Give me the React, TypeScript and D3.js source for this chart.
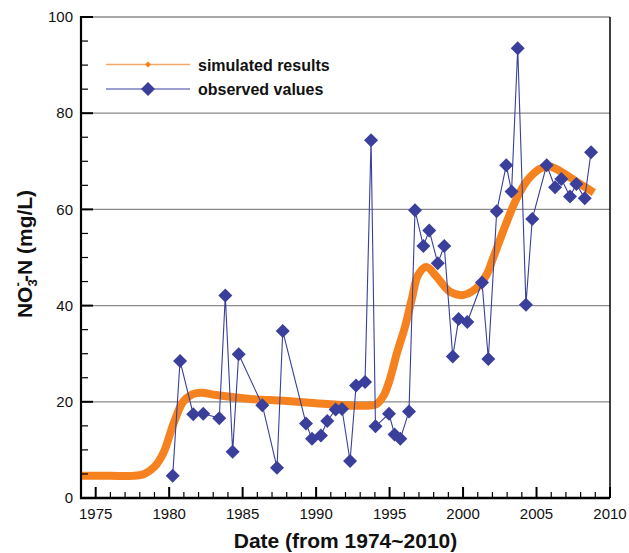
import React from "react";
import * as d3 from "d3";

const obsYears = [
  1980.24, 1980.74, 1981.64, 1982.32, 1983.41, 1983.82, 1984.32, 1984.73, 1986.34, 1987.34,
  1987.73, 1989.31, 1989.72, 1990.33, 1990.76, 1991.33, 1991.76, 1992.31, 1992.72, 1993.33,
  1993.74, 1994.04, 1994.96, 1995.34, 1995.73, 1996.32, 1996.73, 1997.3, 1997.7, 1998.28,
  1998.72, 1999.3, 1999.7, 2000.29, 2001.29, 2001.72, 2002.29, 2002.94, 2003.3, 2003.72,
  2004.28, 2004.71, 2005.69, 2006.26, 2006.69, 2007.28, 2007.71, 2008.28, 2008.71,
];
const obsValues = [
  4.6, 28.5, 17.4, 17.5, 16.6, 42.1, 9.6, 29.9, 19.3, 6.3,
  34.7, 15.5, 12.3, 13.0, 16.0, 18.4, 18.5, 7.7, 23.4, 24.1,
  74.4, 14.9, 17.5, 13.2, 12.3, 18.0, 59.8, 52.4, 55.6, 48.8,
  52.4, 29.4, 37.2, 36.6, 44.8, 28.9, 59.6, 69.2, 63.7, 93.5,
  40.2, 58.0, 69.2, 64.6, 66.3, 62.7, 65.3, 62.3, 71.9,
];

const simYears = [
  1974, 1976, 1977.5, 1978.3, 1979, 1979.6, 1980.3, 1980.95, 1981.6, 1982.2,
  1983.2, 1985.5, 1987.8, 1990, 1992.3, 1993.5, 1994.1, 1994.6, 1995.0, 1995.5,
  1996.05, 1996.5, 1996.95, 1997.5, 1998.2, 1999.1, 2000.0, 2000.9, 2001.6, 2002.0,
  2002.5, 2003.0, 2003.5, 2004.0, 2004.5, 2005.2, 2005.9, 2007.0, 2007.9, 2008.9,
];
const simValues = [
  4.6, 4.6, 4.6, 5.0, 6.5, 9.3, 15.5, 20.0, 21.6, 21.9,
  21.4, 20.6, 20.2, 19.7, 19.2, 19.2, 19.5, 21.3, 24.5, 30.1,
  35.6, 41.2, 46.4, 48.0, 46.0, 42.9, 42.2, 43.6, 46.4, 49.5,
  53.6, 57.6, 61.3, 64.3, 66.5, 68.4, 68.9, 67.2, 65.4, 63.5,
];

const xMajorTicks = [1975, 1980, 1985, 1990, 1995, 2000, 2005, 2010];
const yMajorTicks = [0, 20, 40, 60, 80, 100];
const legendLabels = ["simulated results", "observed values"];

const W = 629;
const H = 553;
const ORANGE = "#f5821f";
const BLUE = "#3a3f9c";
const FONT = "'Liberation Sans', Arial, Helvetica, sans-serif";

export default function App() {
  const x = d3.scaleLinear().domain([1974, 2010]).range([81, 610]);
  const y = d3.scaleLinear().domain([0, 100]).range([498, 17]);

  const simData = simYears.map((yr, i) => [yr, simValues[i]] as [number, number]);
  const obsData = obsYears.map((yr, i) => [yr, obsValues[i]] as [number, number]);

  const simLine = d3
    .line<[number, number]>()
    .x((d) => x(d[0]))
    .y((d) => y(d[1]))
    .curve(d3.curveCatmullRom.alpha(0.5));
  const obsLine = d3
    .line<[number, number]>()
    .x((d) => x(d[0]))
    .y((d) => y(d[1]));

  const xMinor = d3.range(1975, 2010, 1).filter((v) => v % 5 !== 0);
  const yMinor = d3.range(5, 100, 5).filter((v) => v % 20 !== 0);
  const diamond = (cx: number, cy: number, r: number) =>
    `M${cx},${cy - r}L${cx + r},${cy}L${cx},${cy + r}L${cx - r},${cy}Z`;

  const x0 = x.range()[0];
  const x1 = x.range()[1];
  const y0 = y.range()[0];
  const y1 = y.range()[1];

  return (
    <svg
      width={W}
      height={H}
      style={{ position: "absolute", left: 0, top: 0, background: "#fff" }}
      fontFamily={FONT}
    >
      {yMajorTicks
        .filter((v) => v > 0)
        .map((v) => (
          <line key={"g" + v} x1={x0} x2={x1} y1={y(v)} y2={y(v)} stroke="#8a8a8a" strokeWidth={1.3} />
        ))}

      <path d={simLine(simData) || ""} fill="none" stroke={ORANGE} strokeWidth={8} strokeLinejoin="round" />

      <path d={obsLine(obsData) || ""} fill="none" stroke={BLUE} strokeWidth={1.1} />
      {obsData.map((d, i) => (
        <path key={"o" + i} d={diamond(x(d[0]), y(d[1]), 7)} fill={BLUE} />
      ))}

      <line x1={x1} x2={x1} y1={y1} y2={y0} stroke="#000" strokeWidth={1.5} />
      <line x1={x0} x2={x0} y1={y1 - 1} y2={y0 + 1} stroke="#000" strokeWidth={2.2} />
      <line x1={x0 - 1} x2={x1} y1={y0} y2={y0} stroke="#000" strokeWidth={2.4} />

      {xMajorTicks.map((v) => (
        <g key={"xt" + v}>
          <line x1={x(v)} x2={x(v)} y1={y0} y2={y0 - 11} stroke="#000" strokeWidth={2} />
          <text x={x(v)} y={519} textAnchor="middle" fontSize={15} fill="#111">
            {v}
          </text>
        </g>
      ))}
      {xMinor.map((v) => (
        <line key={"xm" + v} x1={x(v)} x2={x(v)} y1={y0} y2={y0 - 6} stroke="#000" strokeWidth={1.2} />
      ))}
      {yMajorTicks.map((v) => (
        <g key={"yt" + v}>
          <line x1={x0} x2={x0 + 12} y1={y(v)} y2={y(v)} stroke="#000" strokeWidth={2} />
          <text x={73} y={y(v)} dy="0.35em" textAnchor="end" fontSize={15} fill="#111">
            {v}
          </text>
        </g>
      ))}
      {yMinor.map((v) => (
        <line key={"ym" + v} x1={x0} x2={x0 + 7} y1={y(v)} y2={y(v)} stroke="#000" strokeWidth={1.2} />
      ))}

      <line x1={106} x2={190} y1={64.5} y2={64.5} stroke="#f7a868" strokeWidth={1.5} />
      <path d={diamond(148, 64.5, 3)} fill={ORANGE} />
      <line x1={106} x2={190} y1={89} y2={89} stroke={BLUE} strokeWidth={1.2} />
      <path d={diamond(148, 89, 7)} fill={BLUE} />
      <text x={198} y={71} fontSize={16} fontWeight="bold" fill="#111">
        {legendLabels[0]}
      </text>
      <text x={198} y={95} fontSize={16} fontWeight="bold" fill="#111">
        {legendLabels[1]}
      </text>

      <text x={(x0 + x1) / 2} y={548} textAnchor="middle" fontSize={21} fontWeight="bold" fill="#111">
        Date (from 1974~2010)
      </text>
      <text
        transform={`translate(32,${254}) rotate(-90)`}
        textAnchor="middle"
        fontSize={21}
        fontWeight="bold"
        fill="#111"
      >
        <tspan>NO</tspan>
        <tspan fontSize={13} dy={5}>3</tspan>
        <tspan fontSize={13} dx={-7} dy={-15}>-</tspan>
        <tspan dy={10}>-N (mg/L)</tspan>
      </text>
    </svg>
  );
}
